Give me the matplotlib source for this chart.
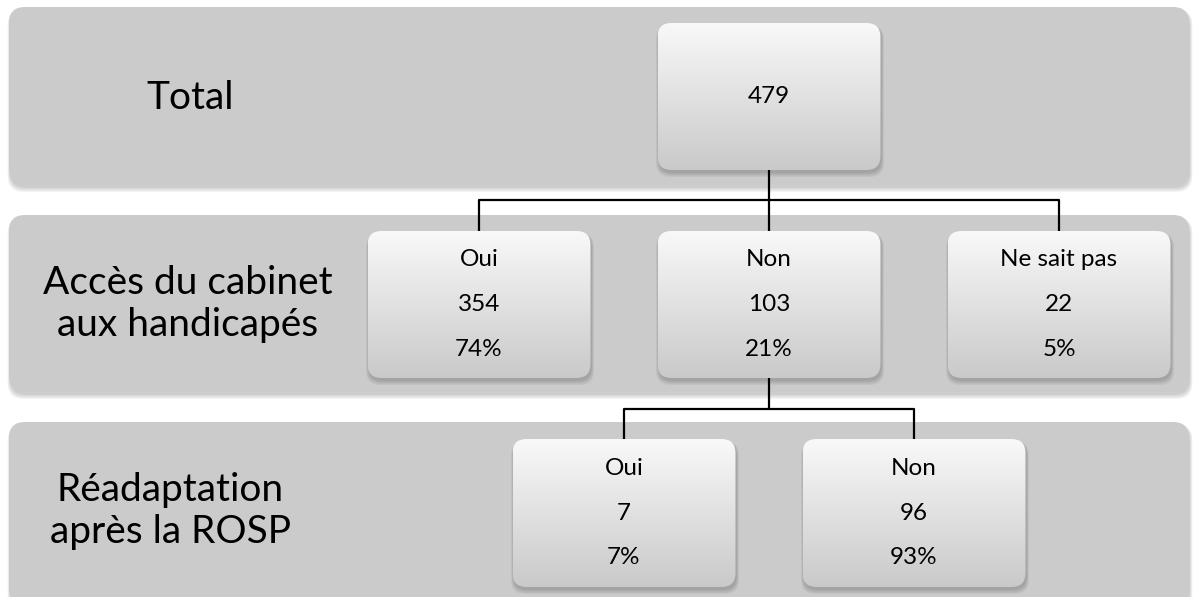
import matplotlib.pyplot as plt
import numpy as np
from matplotlib.patches import FancyBboxPatch

plt.rcParams['font.family'] = ['Lato', 'DejaVu Sans']

# data
level_labels = ['Total', 'Accès du cabinet\naux handicapés', 'Réadaptation\naprès la ROSP']
total = 479
access_cats = ['Oui', 'Non', 'Ne sait pas']
access_n = [354, 103, 22]
access_pct = ['74%', '21%', '5%']
readapt_cats = ['Oui', 'Non']
readapt_n = [7, 96]
readapt_pct = ['7%', '93%']

W, H = 1196, 597
fig = plt.figure(figsize=(W / 100, H / 100), dpi=100)
ax = fig.add_axes([0, 0, 1, 1])
ax.set_xlim(0, W)
ax.set_ylim(H, 0)
ax.axis('off')


def shadow(x, y, w, h, r, z):
    for i, a in enumerate([0.05, 0.05, 0.05, 0.05]):
        s = FancyBboxPatch((x + 1, y + 3 + i * 0.5), w, h,
                           boxstyle=f'round,pad={i * 0.8},rounding_size={r}',
                           fc='black', ec='none', alpha=a, zorder=z)
        ax.add_patch(s)


def band(y0, y1):
    x0, x1 = 9, 1189
    shadow(x0, y0, x1 - x0, y1 - y0, 16, 1)
    p = FancyBboxPatch((x0, y0), x1 - x0, y1 - y0,
                       boxstyle='round,pad=0,rounding_size=16',
                       fc='#cbcbcb', ec='none', zorder=2)
    ax.add_patch(p)


grad = np.linspace(0.975, 0.79, 200)
grad_img = np.dstack([grad, grad, grad]).reshape(200, 1, 3)


def box(cx, y0, w, h, lines, dy):
    x0 = cx - w / 2
    shadow(x0, y0, w, h, 14, 3)
    p = FancyBboxPatch((x0, y0), w, h, boxstyle='round,pad=0,rounding_size=14',
                       fc='none', ec='none', zorder=4)
    ax.add_patch(p)
    im = ax.imshow(grad_img, extent=(x0, x0 + w, y0 + h, y0), origin='upper',
                   aspect='auto', zorder=4, interpolation='bilinear')
    im.set_clip_path(p)
    cy = y0 + h / 2
    n = len(lines)
    for i, t in enumerate(lines):
        ax.text(cx, cy + (i - (n - 1) / 2) * dy, t, ha='center', va='center',
                fontsize=17.5, color='black', zorder=6)


def conn(pts):
    xs, ys = zip(*pts)
    ax.plot(xs, ys, color='black', lw=1.6, zorder=3, solid_capstyle='butt')


# bands
band(7, 185)
band(215, 392)
band(422, 605)

# level labels
ax.text(190, 98, level_labels[0], ha='center', va='center', fontsize=28, zorder=6)
ax.text(188, 304, level_labels[1], ha='center', va='center', fontsize=28,
        linespacing=1.2, zorder=6)
ax.text(170, 511, level_labels[2], ha='center', va='center', fontsize=28,
        linespacing=1.2, zorder=6)

bw, bh = 223, 147
root_x = 769
row2_x = [479, 769, 1059]
row3_x = [624, 914]

# connectors
conn([(root_x, 170), (root_x, 231)])
conn([(row2_x[0], 231), (row2_x[0], 200), (row2_x[-1], 200), (row2_x[-1], 231)])
conn([(row2_x[1], 378), (row2_x[1], 409)])
conn([(row3_x[0], 439), (row3_x[0], 409), (row3_x[-1], 409), (row3_x[-1], 439)])

# boxes
box(root_x, 23, bw, bh, [str(total)], 44)
for cx, c, n, p in zip(row2_x, access_cats, access_n, access_pct):
    box(cx, 231, bw, bh, [c, str(n), p], 44.5)
for cx, c, n, p in zip(row3_x, readapt_cats, readapt_n, readapt_pct):
    box(cx, 439, bw, 148, [c, str(n), p], 44.5)

fig.savefig('out.png', dpi=100)
